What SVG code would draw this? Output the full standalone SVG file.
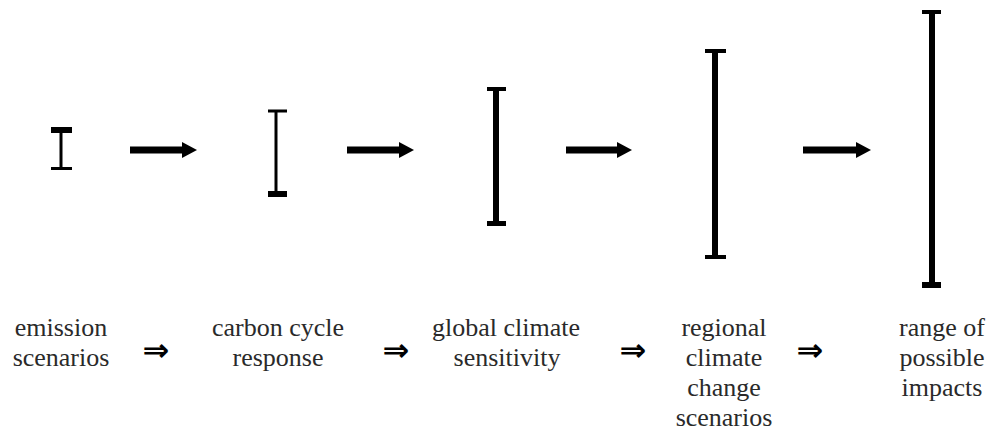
<svg xmlns="http://www.w3.org/2000/svg" width="992" height="431" viewBox="0 0 992 431">
<defs>
<style>
.bar{stroke:#000;fill:none}
.cap{fill:#000}
.lbl{font-family:'Liberation Serif','Times New Roman',serif;font-size:26px;fill:#2a2a2a;text-anchor:middle}
.dbl{font-family:'DejaVu Sans',sans-serif;font-size:32px;font-weight:bold;fill:#000;text-anchor:middle}
.arr{fill:#000}
</style>
</defs>
<rect width="992" height="431" fill="#fff"/>
<g id="bar1">
<line class="bar" x1="61" y1="130" x2="61" y2="168" stroke-width="3"/>
<rect class="cap" x="51" y="127" width="21" height="6"/>
<rect class="cap" x="51" y="167" width="21" height="3"/>
</g>
<g id="bar2">
<line class="bar" x1="276" y1="111" x2="276" y2="194" stroke-width="3"/>
<rect class="cap" x="268" y="109.5" width="19" height="3"/>
<rect class="cap" x="268" y="191" width="19" height="6"/>
</g>
<g id="bar3">
<line class="bar" x1="496" y1="89" x2="496" y2="224" stroke-width="6"/>
<rect class="cap" x="487" y="87" width="19" height="4"/>
<rect class="cap" x="487" y="221" width="19" height="5"/>
</g>
<g id="bar4">
<line class="bar" x1="715" y1="51" x2="715" y2="257" stroke-width="6"/>
<rect class="cap" x="705" y="49" width="21" height="4"/>
<rect class="cap" x="705" y="255" width="21" height="4"/>
</g>
<g id="bar5">
<line class="bar" x1="932" y1="12" x2="932" y2="285" stroke-width="6"/>
<rect class="cap" x="922" y="10" width="19" height="4"/>
<rect class="cap" x="922" y="282" width="19" height="6"/>
</g>
<g id="connectors">
<path class="arr" d="M130 146.5 H182 V142 L197 150 L182 158 V153.5 H130 Z"/>
<path class="arr" d="M347 146.5 H399 V142 L414 150 L399 158 V153.5 H347 Z"/>
<path class="arr" d="M566 146.5 H617 V142 L632 150 L617 158 V153.5 H566 Z"/>
<path class="arr" d="M803 146.5 H856 V142 L871 150 L856 158 V153.5 H803 Z"/>
<text class="dbl" x="156" y="361">⇒</text>
<text class="dbl" x="396" y="361">⇒</text>
<text class="dbl" x="633" y="361">⇒</text>
<text class="dbl" x="810" y="361">⇒</text>
</g>
<g id="label1"><text class="lbl" x="61" y="336">emission</text><text class="lbl" x="61" y="366">scenarios</text></g>
<g id="label2"><text class="lbl" x="278" y="336">carbon cycle</text><text class="lbl" x="278" y="366">response</text></g>
<g id="label3"><text class="lbl" x="506" y="336">global climate</text><text class="lbl" x="507" y="366">sensitivity</text></g>
<g id="label4"><text class="lbl" x="724" y="336">regional</text><text class="lbl" x="724" y="366">climate</text><text class="lbl" x="724" y="396">change</text><text class="lbl" x="724" y="426">scenarios</text></g>
<g id="label5"><text class="lbl" x="942" y="336">range of</text><text class="lbl" x="942" y="366">possible</text><text class="lbl" x="942" y="396">impacts</text></g>
</svg>
